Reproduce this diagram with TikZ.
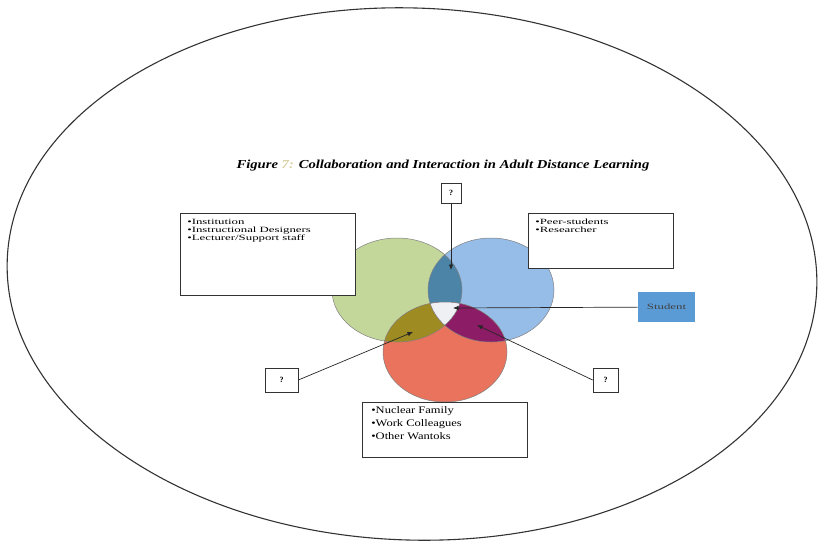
\documentclass[tikz,border=0pt]{standalone}
\usepackage{fontspec}
\setmainfont{Liberation Serif}
\newfontfamily\widefont[FakeStretch=1.6]{Liberation Serif}
\newfontfamily\midfont[FakeStretch=1.25]{Liberation Serif}
\newfontfamily\titlefont[FakeStretch=1.2]{Liberation Serif}
\usepackage{xcolor}
\usepackage{tikz}
\usetikzlibrary{arrows.meta}
\definecolor{setgreen}{HTML}{C4D79B}
\definecolor{setblue}{HTML}{95BDE8}
\definecolor{setred}{HTML}{E9735C}
\definecolor{setgb}{HTML}{4B84A6}
\definecolor{setgr}{HTML}{9E8C22}
\definecolor{setbr}{HTML}{8C1C65}
\definecolor{setall}{HTML}{EEF0F4}
\definecolor{studentblue}{HTML}{5B9BD5}
\definecolor{fadedgold}{HTML}{D9D0A2}
\newcommand{\greenset}{(397,290) ellipse [x radius=65,y radius=52]}
\newcommand{\blueset}{(491,290) ellipse [x radius=63,y radius=52]}
\newcommand{\redset}{(445,352) ellipse [x radius=62,y radius=50]}
\tikzset{
  listbox/.style={draw=black!80,fill=white,line width=0.7pt,anchor=north west,inner xsep=7pt,inner ysep=6pt},
  qbox/.style={draw=black!80,fill=white,line width=0.7pt,inner sep=0pt,font=\bfseries\fontsize{8}{9}\selectfont},
  link/.style={draw=black!85,line width=0.7pt,-{Latex[length=5.5pt,width=4.5pt]}}
}
\begin{document}
\begin{tikzpicture}[x=1pt,y=-1pt]
\useasboundingbox (0,0) rectangle (819,542);
\draw[black!80,line width=1.1pt,rotate around={-2:(412,274)}] (412,274) ellipse [x radius=405,y radius=266];
\node[font=\titlefont\bfseries\itshape\fontsize{12.2}{14}\selectfont] (title) at (443,166) {Figure {\color{fadedgold}7:} Collaboration and Interaction in Adult Distance Learning};
\fill[setgreen] \greenset;
\fill[setblue] \blueset;
\fill[setred] \redset;
\begin{scope} \clip \greenset; \fill[setgb] \blueset; \end{scope}
\begin{scope} \clip \greenset; \fill[setgr] \redset; \end{scope}
\begin{scope} \clip \blueset; \fill[setbr] \redset; \end{scope}
\begin{scope} \clip \greenset; \clip \blueset; \fill[setall] \redset; \end{scope}
\draw[black!50,line width=0.5pt] \greenset \blueset \redset;
\node[listbox,font=\widefont\fontsize{8}{7.7}\selectfont] (inst) at (180,213) {\parbox[t][70pt][t]{161pt}{\raggedright
  •Institution\\ •Instructional Designers\\ •Lecturer/Support staff}};
\node[listbox,font=\widefont\fontsize{8}{8}\selectfont] (peers) at (528,213) {\parbox[t][43pt][t]{131pt}{\raggedright
  •Peer-students\\ •Researcher}};
\node[listbox,inner xsep=9pt,inner ysep=4pt,font=\midfont\fontsize{10}{13}\selectfont] (family) at (362,402) {\parbox[t][47pt][t]{147pt}{\raggedright
  •Nuclear Family\\ •Work Colleagues\\ •Other Wantoks}};
\node[fill=studentblue,minimum width=57,minimum height=30,inner sep=0pt,text=black!75,font=\widefont\fontsize{8}{9}\selectfont] (student) at (666.5,307) {Student};
\node[qbox,minimum width=20,minimum height=20] (qtop) at (451,193) {?};
\node[qbox,minimum width=33,minimum height=24] (qleft) at (281.5,380) {?};
\node[qbox,minimum width=25,minimum height=24] (qright) at (605.5,380) {?};
\coordinate (gbpoint) at (451,270);
\coordinate (allpoint) at (453,308);
\coordinate (grpoint) at (413,332);
\coordinate (brpoint) at (477,325);
\draw[link] (qtop) -- (gbpoint);
\draw[link] (student) -- (allpoint);
\draw[link] (qleft.east) -- (grpoint);
\draw[link] (qright.west) -- (brpoint);
\end{tikzpicture}
\end{document}
